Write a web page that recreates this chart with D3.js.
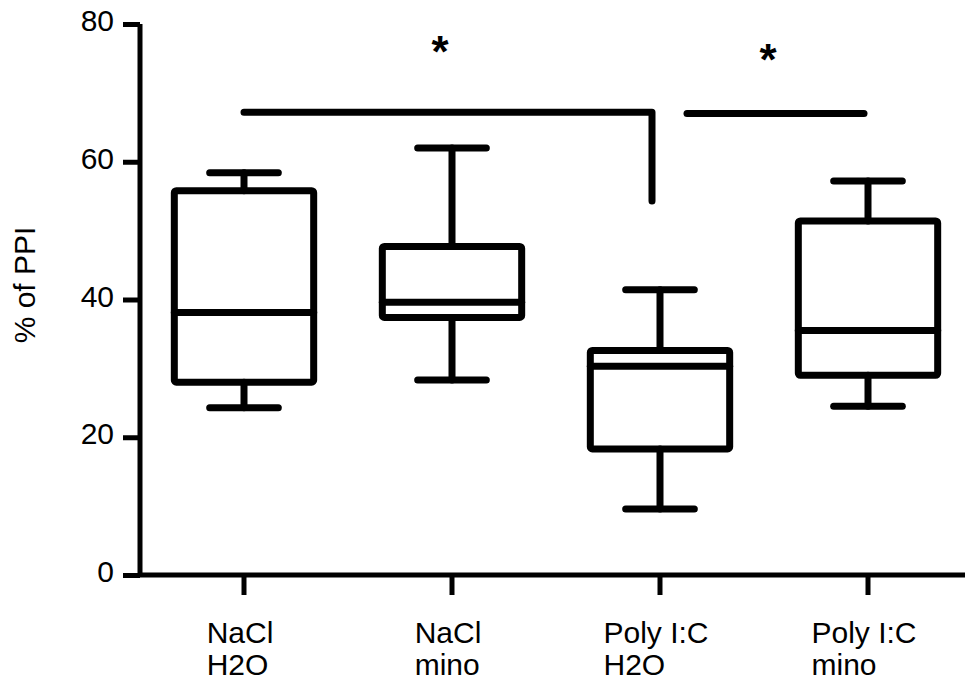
<!DOCTYPE html>
<html lang="en">
<head>
  <meta charset="UTF-8">
  <title>% of PPI box plot</title>
  <script src="https://d3js.org/d3.v7.min.js"></script>
  <style>
    body { margin: 0; background: #fff; }
    svg { display: block; font-family: 'Liberation Sans', Arial, sans-serif; }
    .box, .whisker, .sig { stroke: #000; stroke-width: 7; fill: none; stroke-linecap: round; stroke-linejoin: round; }
  </style>
</head>
<body>
  <svg width="965" height="690"></svg>
  <script>
    // group names (two lines each)
    const categories = [["NaCl", "H2O"], ["NaCl", "mino"], ["Poly I:C", "H2O"], ["Poly I:C", "mino"]];
    const whiskerMax = [58.4, 62.0, 41.4, 57.2];
    const q3 = [55.8, 47.7, 32.6, 51.4];
    const median = [38.1, 39.6, 30.3, 35.5];
    const q1 = [28.0, 37.4, 18.3, 29.0];
    const whiskerMin = [24.3, 28.3, 9.6, 24.5];
    const yTicks = [0, 20, 40, 60, 80];

    const svg = d3.select("svg");
    const keys = categories.map((d, i) => i);

    const x = d3.scaleBand().domain(keys).range([140, 972]);
    const y = d3.scaleLinear().domain([0, 80]).range([575, 24]);
    const cx = i => x(i) + x.bandwidth() / 2;
    const boxW = x.bandwidth() * 0.67;
    const capW = x.bandwidth() * 0.33;

    // y axis
    const yAxis = svg.append("g").attr("transform", "translate(140,0)")
      .call(d3.axisLeft(y).tickValues(yTicks).tickSize(17).tickPadding(9));
    yAxis.select(".domain").attr("stroke-width", 5).attr("d", `M0,${y(80)}V${y(0)}`);
    yAxis.selectAll(".tick line").attr("stroke-width", 5);
    yAxis.selectAll(".tick text").attr("font-size", 30).attr("fill", "#000").attr("dy", "0.22em")
      .attr("font-family", "'Liberation Sans', Arial, sans-serif");

    // x axis
    const xAxis = svg.append("g").attr("transform", "translate(0,575)")
      .call(d3.axisBottom(x).tickSize(20).tickFormat(""));
    xAxis.select(".domain").attr("stroke-width", 5).attr("d", "M138,0H965");
    xAxis.selectAll(".tick line").attr("stroke-width", 5);

    const labels = svg.append("g");
    keys.forEach(i => {
      const t = labels.append("text")
        .attr("font-size", 30).attr("fill", "#000");
      t.append("tspan").attr("x", 0).attr("y", 0).text(categories[i][0]);
      t.append("tspan").attr("x", 0).attr("y", 32).text(categories[i][1]);
      const w = t.select("tspan").node().getComputedTextLength();
      t.attr("transform", `translate(${cx(i) - w / 2 - 4},643)`);
    });

    // boxes
    const g = svg.append("g");
    keys.forEach(i => {
      const c = cx(i);
      g.append("line").attr("class", "whisker")
        .attr("x1", c).attr("x2", c).attr("y1", y(whiskerMax[i])).attr("y2", y(q3[i]));
      g.append("line").attr("class", "whisker")
        .attr("x1", c).attr("x2", c).attr("y1", y(q1[i])).attr("y2", y(whiskerMin[i]));
      g.append("line").attr("class", "whisker")
        .attr("x1", c - capW / 2).attr("x2", c + capW / 2).attr("y1", y(whiskerMax[i])).attr("y2", y(whiskerMax[i]));
      g.append("line").attr("class", "whisker")
        .attr("x1", c - capW / 2).attr("x2", c + capW / 2).attr("y1", y(whiskerMin[i])).attr("y2", y(whiskerMin[i]));
      g.append("rect").attr("class", "box")
        .attr("x", c - boxW / 2).attr("width", boxW)
        .attr("y", y(q3[i])).attr("height", y(q1[i]) - y(q3[i]))
        .attr("rx", 2);
      g.append("line").attr("class", "whisker").attr("stroke-linecap", "butt")
        .attr("x1", c - boxW / 2).attr("x2", c + boxW / 2).attr("y1", y(median[i])).attr("y2", y(median[i]));
    });

    // significance brackets
    const sig = svg.append("g");
    sig.append("path").attr("class", "sig")
      .attr("d", `M${cx(0)},${y(67.2)}H${cx(2) - 8}V${y(54.3)}`);
    sig.append("line").attr("class", "sig")
      .attr("x1", cx(2) + 27).attr("x2", cx(3) - 4).attr("y1", y(67.0)).attr("y2", y(67.0));
    sig.append("text").attr("x", (cx(0) + cx(2)) / 2 - 12).attr("y", 67)
      .attr("text-anchor", "middle").attr("font-size", 44).attr("font-weight", "bold").text("*");
    sig.append("text").attr("x", (cx(2) + cx(3)) / 2 + 4).attr("y", 75)
      .attr("text-anchor", "middle").attr("font-size", 44).attr("font-weight", "bold").text("*");

    // y label
    svg.append("text").attr("transform", "translate(35,285) rotate(-90)")
      .attr("text-anchor", "middle").attr("font-size", 30).text("% of PPI");
  </script>
</body>
</html>
